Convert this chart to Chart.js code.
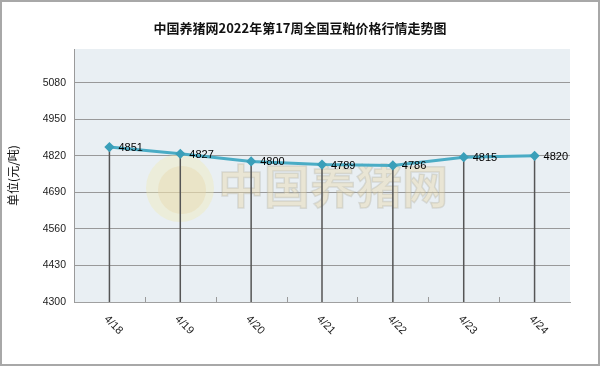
<!DOCTYPE html>
<html>
<head>
<meta charset="utf-8">
<script src="https://cdn.jsdelivr.net/npm/chart.js@4"></script>
<style>
  html, body { margin: 0; padding: 0; background: #fff; }
  #wrap { width: 600px; height: 366px; }
</style>
</head>
<body>
<div id="wrap"><canvas id="soyChart" width="600" height="366"></canvas></div>
<script>
// datos del gráfico
const fechas = ['4/18', '4/19', '4/20', '4/21', '4/22', '4/23', '4/24'];
const precios = [4851, 4827, 4800, 4789, 4786, 4815, 4820];
const ejeY = [4300, 4430, 4560, 4690, 4820, 4950, 5080];
const titulo = '中国养猪网2022年第17周全国豆粕价格行情走势图';
const tituloY = '单位(元/吨)';
const marcaAgua = '中国养猪网';

const fuenteNum = '"Liberation Sans", Arial, sans-serif';
const fuenteCJK = '"Noto Sans CJK SC", sans-serif';

// fondo, borde exterior y fondo del área del gráfico
const fondoPlugin = {
    id: 'fondo',
    beforeDraw(chart) {
        const { ctx, chartArea: a, width, height } = chart;
        ctx.save();
        ctx.fillStyle = '#ffffff';
        ctx.fillRect(0, 0, width, height);
        ctx.fillStyle = '#e9eff3';
        ctx.fillRect(a.left, a.top, a.right - a.left, a.bottom - a.top);
        ctx.strokeStyle = '#a8a8a8';
        ctx.lineWidth = 2;
        ctx.strokeRect(1, 1, width - 2, height - 2);
        // título
        ctx.fillStyle = '#111';
        ctx.font = 'bold 13px ' + fuenteCJK;
        ctx.textAlign = 'center';
        ctx.textBaseline = 'middle';
        ctx.fillText(titulo, width / 2, 28);
        ctx.restore();
    },
    beforeDatasetsDraw(chart) {
        const { ctx, chartArea: a } = chart;
        const x = chart.scales.x, y = chart.scales.y;
        const meta = chart.getDatasetMeta(0);
        ctx.save();
        // marca de agua (logo aproximado)
        ctx.beginPath();
        ctx.arc(180, 188, 34, 0, Math.PI * 2);
        ctx.fillStyle = 'rgba(240, 234, 180, 0.4)';
        ctx.fill();
        ctx.beginPath();
        ctx.arc(182, 190, 24, 0, Math.PI * 2);
        ctx.fillStyle = 'rgba(232, 216, 170, 0.4)';
        ctx.fill();
        ctx.font = 'bold 46px ' + fuenteCJK;
        ctx.textAlign = 'left';
        ctx.textBaseline = 'middle';
        ctx.fillStyle = 'rgba(232, 216, 165, 0.4)';
        ctx.strokeStyle = 'rgba(170, 170, 160, 0.3)';
        ctx.lineWidth = 1.5;
        ctx.fillText(marcaAgua, 218, 186);
        ctx.strokeText(marcaAgua, 218, 186);
        // marcas menores entre categorías
        ctx.strokeStyle = '#9a9a9a';
        ctx.lineWidth = 1;
        for (let i = 1; i < fechas.length; i++) {
            const px = Math.round(x.getPixelForValue(i - 0.5)) + 0.5;
            ctx.beginPath();
            ctx.moveTo(px, a.bottom);
            ctx.lineTo(px, a.bottom - 5);
            ctx.stroke();
        }
        // líneas verticales desde cada punto
        ctx.strokeStyle = '#555555';
        ctx.lineWidth = 1.5;
        meta.data.forEach(p => {
            ctx.beginPath();
            ctx.moveTo(p.x, p.y);
            ctx.lineTo(p.x, y.bottom);
            ctx.stroke();
        });
        ctx.restore();
    },
    afterDatasetsDraw(chart) {
        const { ctx } = chart;
        const meta = chart.getDatasetMeta(0);
        ctx.save();
        ctx.font = '11px ' + fuenteNum;
        ctx.fillStyle = '#000';
        ctx.textAlign = 'left';
        ctx.textBaseline = 'middle';
        meta.data.forEach((p, i) => {
            ctx.fillText(String(precios[i]), p.x + 9, p.y + 1);
        });
        // etiquetas del eje X giradas
        ctx.fillStyle = '#222';
        ctx.font = '11px ' + fuenteNum;
        ctx.textAlign = 'center';
        fechas.forEach((f, i) => {
            const px = chart.scales.x.getPixelForValue(i);
            ctx.save();
            ctx.translate(px + 4, 325);
            ctx.rotate(Math.PI / 4);
            ctx.fillText(f, 0, 0);
            ctx.restore();
        });
        ctx.restore();
    }
};

new Chart(document.getElementById('soyChart').getContext('2d'), {
    type: 'line',
    data: {
        labels: fechas,
        datasets: [{
            label: '豆粕价格',
            data: precios,
            borderColor: '#4aacc5',
            borderWidth: 3,
            pointStyle: 'rectRot',
            pointRadius: 3,
            pointBackgroundColor: '#3a9fb9',
            pointBorderColor: '#3a9fb9',
            tension: 0,
            fill: false
        }]
    },
    options: {
        responsive: false,
        animation: false,
        layout: { padding: { top: 49, right: 30, bottom: 64, left: 0 } },
        plugins: {
            legend: { display: false },
            tooltip: { enabled: false },
            title: { display: false }
        },
        scales: {
            x: {
                offset: true,
                afterFit: s => { s.height = 0; },
                ticks: { display: false },
                grid: { drawOnChartArea: false, drawTicks: false },
                border: { color: '#a0a0a0', width: 1 }
            },
            y: {
                min: 4300,
                max: 5200,
                afterFit: s => { s.width = 74; },
                afterBuildTicks: s => { s.ticks = ejeY.map(v => ({ value: v })); },
                ticks: {
                    padding: 8,
                    color: '#222',
                    font: { size: 10.5, family: fuenteNum },
                    callback: v => String(v)
                },
                grid: { color: '#999999', lineWidth: 1, drawTicks: false },
                border: { color: '#9a9a9a', width: 1 },
                title: {
                    display: true,
                    text: tituloY,
                    color: '#111',
                    font: { size: 12, family: fuenteCJK },
                    padding: { top: 6, bottom: 0 }
                }
            }
        }
    },
    plugins: [fondoPlugin]
});
</script>
</body>
</html>
